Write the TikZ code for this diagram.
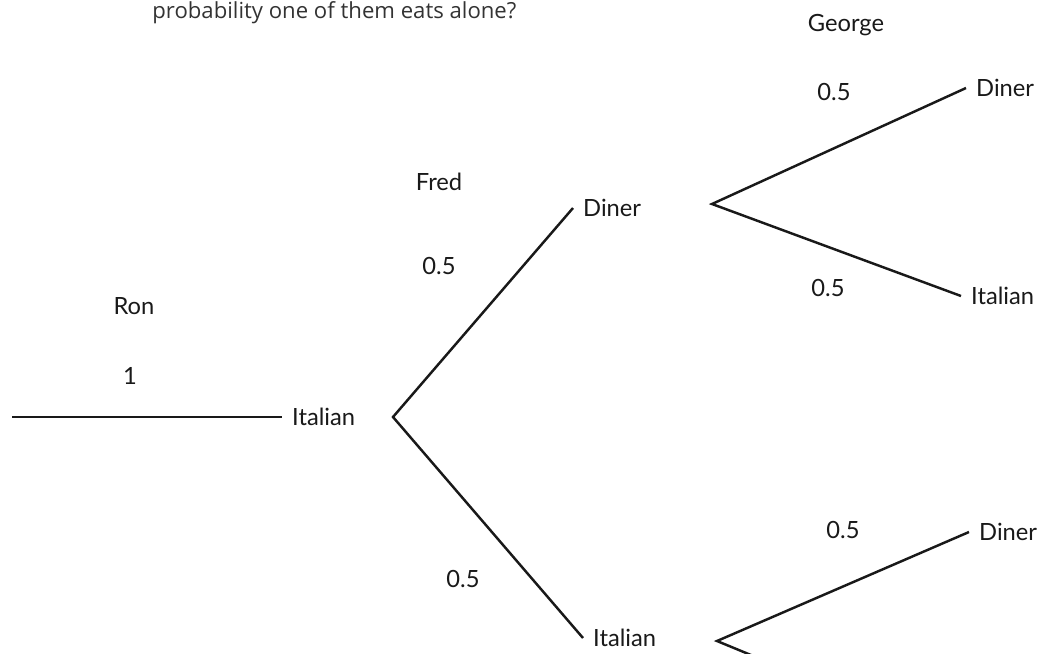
\documentclass[tikz,border=0pt]{standalone}
\usepackage{fontspec}
\setmainfont{Lato}
\newfontfamily\questionfont{Open Sans}
\usetikzlibrary{positioning}

\tikzset{
	branch/.style={line width=1.4pt, black!90},
	choice/.style={font=\fontsize{13.5}{15}\selectfont, text=black!90, inner xsep=5.6pt, inner ysep=0pt, anchor=west},
	prob/.style={font=\fontsize{13.5}{15}\selectfont, text=black!90, inner sep=0pt},
	eater/.style={font=\fontsize{13.5}{15}\selectfont, text=black!90, inner sep=0pt},
}

\begin{document}
\begin{tikzpicture}[x=0.02cm, y=-0.02cm]
	\useasboundingbox (0,0) rectangle (1042,653);

	% Question, cut off above
	\node[anchor=base west, inner sep=0pt, text=black!80,
		font=\questionfont\fontsize{12.6}{14}\selectfont] (question) at (152,18)
		{probability one of them eats alone?};

	% Who eats
	\node[eater] (ron) at (134,306) {Ron};
	\node[eater] (fred) at (439,182) {Fred};
	\node[eater] (george) at (846,25) {George};

	% Ron
	\coordinate (start) at (12,417);
	\node[choice] (ronItalian) at (282,417) {Italian};
	\node[prob] (pRon) at (130,376) {1};
	\draw[branch] (start) -- (ronItalian.west);

	% Fred
	\coordinate (forkRon) at (393,417);
	\node[choice] (fredDiner) at (573,208) {Diner};
	\node[choice] (fredItalian) at (583,638) {Italian};
	\node[prob] (pFredDiner) at (439,266) {0.5};
	\node[prob] (pFredItalian) at (463,579) {0.5};
	\draw[branch] (fredDiner.west) -- (forkRon) -- (fredItalian.west);

	% George after Fred's Diner
	\coordinate (forkDiner) at (712,204);
	\node[choice] (georgeDiner) at (966,88) {Diner};
	\node[choice] (georgeItalian) at (961,296) {Italian};
	\node[prob] (pGeorgeDiner) at (834,92) {0.5};
	\node[prob] (pGeorgeItalian) at (828,288) {0.5};
	\draw[branch] (georgeDiner.west) -- (forkDiner) -- (georgeItalian.west);

	% George after Fred's Italian
	\coordinate (forkItalian) at (717,641);
	\coordinate (offpage) at (780,667);
	\node[choice] (georgeDinerB) at (969,532) {Diner};
	\node[prob] (pGeorgeDinerB) at (843,530) {0.5};
	\draw[branch] (georgeDinerB.west) -- (forkItalian) -- (offpage);

\end{tikzpicture}
\end{document}
